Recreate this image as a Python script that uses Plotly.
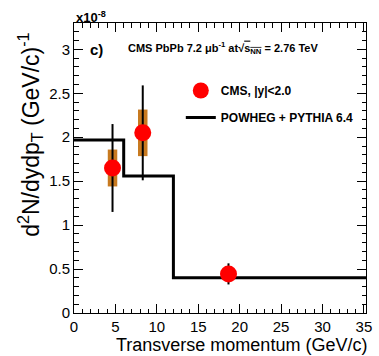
import plotly.graph_objects as go

# CMS measured points (pT in GeV/c, yields in units of 1e-8 (GeV/c)^-1)
pt_points = [4.65, 8.3, 18.65]
yield_points = [1.65, 2.05, 0.445]
stat_err = [0.50, 0.54, 0.12]
syst_err = [0.21, 0.265, 0.0]

# POWHEG + PYTHIA 6.4 prediction, piecewise constant over pT bins
model_edges = [0, 6, 12, 40]
model_values = [1.97, 1.56, 0.40, 0.40]

FONT = "Liberation Sans, Arial, Helvetica, sans-serif"
SYST_COLOR = "#C87A20"

fig = go.Figure()

fig.add_trace(go.Scatter(
    x=model_edges, y=model_values, mode="lines",
    line=dict(color="black", width=3, shape="hv"),
    name="<b>POWHEG + PYTHIA 6.4</b>", legendrank=2,
    legendgroup="model",
))

# systematic uncertainty boxes
fig.add_trace(go.Scatter(
    x=pt_points, y=yield_points, mode="markers",
    marker=dict(size=1, color="rgba(0,0,0,0)"),
    error_y=dict(type="data", array=syst_err, visible=True,
                 color=SYST_COLOR, thickness=9.5, width=0),
    showlegend=False, hoverinfo="skip",
))

# data points with statistical errors
fig.add_trace(go.Scatter(
    x=pt_points, y=yield_points, mode="markers",
    marker=dict(size=17, color="#FF0000", line=dict(width=0)),
    error_y=dict(type="data", array=stat_err, visible=True,
                 color="black", thickness=2, width=0),
    name="<b>CMS, |y|<2.0</b>", legendrank=1, legendgroup="cms",
))

axis_common = dict(
    showline=True, linecolor="black", linewidth=1, mirror="ticks",
    ticks="inside", ticklen=9, tickwidth=1, tickcolor="black",
    showgrid=False, zeroline=False,
    tickfont=dict(family=FONT, size=15, color="black"),
)

fig.update_xaxes(
    range=[0, 35.25], dtick=5, tick0=0,
    minor=dict(ticks="inside", ticklen=4.5, dtick=1, tickcolor="black", showgrid=False),
    **axis_common,
)
fig.update_yaxes(
    range=[0, 3.3], dtick=0.5, tick0=0,
    minor=dict(ticks="inside", ticklen=4.5, dtick=0.1, tickcolor="black", showgrid=False),
    **axis_common,
)

fig.add_annotation(
    text="Transverse momentum (GeV/c)", xref="paper", yref="paper",
    x=1.01, y=-0.11, xanchor="right", yanchor="middle", showarrow=False,
    font=dict(family=FONT, size=18, color="black"),
)
fig.add_annotation(
    text="d<sup>2</sup>N/dydp<sub>T</sub> (GeV/c)<sup>-1</sup>",
    xref="paper", yref="paper", x=-0.151, y=0.614, xanchor="center",
    yanchor="middle", textangle=-90, showarrow=False,
    font=dict(family=FONT, size=23, color="black"),
)
fig.add_annotation(
    text="<b>x10<sup>-8</sup></b>", xref="paper", yref="paper",
    x=0.0, y=1.022, xanchor="left", yanchor="middle", showarrow=False,
    font=dict(family=FONT, size=13, color="black"),
)
fig.add_annotation(
    text="<b>c)</b>", xref="paper", yref="paper",
    x=0.047, y=0.909, xanchor="left", yanchor="middle", showarrow=False,
    font=dict(family=FONT, size=15, color="black"),
)
fig.add_annotation(
    text=("<b>CMS PbPb 7.2 \u03bcb<sup>-1</sup> at\u221a"
          "<span style='text-decoration:overline'>s<sub>NN</sub></span>"
          " = 2.76 TeV</b>"),
    xref="paper", yref="paper",
    x=0.178, y=0.913, xanchor="left", yanchor="middle", showarrow=False,
    font=dict(family=FONT, size=11, color="black"),
)

fig.update_layout(
    width=379, height=356,
    margin=dict(l=74, r=7, t=23, b=43, pad=0),
    paper_bgcolor="white", plot_bgcolor="white",
    showlegend=True,
    legend=dict(
        x=(183 - 74) / 298, y=(313 - 76) / 290, xanchor="left", yanchor="top",
        bgcolor="rgba(0,0,0,0)", borderwidth=0, traceorder="grouped",
        tracegroupgap=8, font=dict(family=FONT, size=12, color="black"),
    ),
)

fig.write_html("out.html")
